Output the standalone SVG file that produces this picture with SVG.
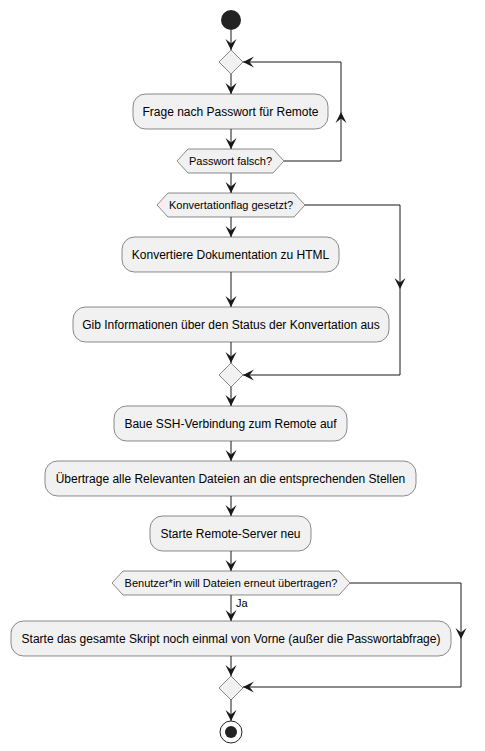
<svg xmlns="http://www.w3.org/2000/svg" width="485" height="751" viewBox="0 0 485 751">
<defs>
<style>
.act{fill:#F1F1F1;stroke:#181818;stroke-width:0.5}
.t{font-family:"Liberation Sans",Arial,sans-serif;font-size:12px;fill:#000;text-anchor:middle}
.ts{font-family:"Liberation Sans",Arial,sans-serif;font-size:11px;fill:#000;text-anchor:middle}
.c{fill:none;stroke:#181818;stroke-width:1}
</style>
<marker id="ah" markerUnits="userSpaceOnUse" markerWidth="14" markerHeight="14" viewBox="-12 -7 14 14" refX="0" refY="0" orient="auto">
<path d="M0,0 L-11,-5.5 L-6.5,0 L-11,5.5 Z" fill="#181818"/>
</marker>
</defs>
<rect width="485" height="751" fill="#FFFFFF"/>
<g id="connectors">
<path class="c" d="M231,30 V50" marker-end="url(#ah)"/>
<path class="c" d="M231,74 V94" marker-end="url(#ah)"/>
<path class="c" d="M231,129 V149" marker-end="url(#ah)"/>
<path class="c" d="M284,161 H341 V112" marker-end="url(#ah)"/>
<path class="c" d="M341,112 V62 H243" marker-end="url(#ah)"/>
<path class="c" d="M231,173 V193" marker-end="url(#ah)"/>
<path class="c" d="M231,217 V237" marker-end="url(#ah)"/>
<path class="c" d="M231,272 V307" marker-end="url(#ah)"/>
<path class="c" d="M231,342 V363" marker-end="url(#ah)"/>
<path class="c" d="M305,205 H400 V289" marker-end="url(#ah)"/>
<path class="c" d="M400,289 V375 H243" marker-end="url(#ah)"/>
<path class="c" d="M231,387 V406" marker-end="url(#ah)"/>
<path class="c" d="M231,441 V461" marker-end="url(#ah)"/>
<path class="c" d="M231,496 V516" marker-end="url(#ah)"/>
<path class="c" d="M231,551 V571" marker-end="url(#ah)"/>
<path class="c" d="M231,595 V621" marker-end="url(#ah)"/>
<text class="ts" x="236" y="607" style="text-anchor:start">Ja</text>
<path class="c" d="M350,583 H461 V639" marker-end="url(#ah)"/>
<path class="c" d="M461,639 V687 H243" marker-end="url(#ah)"/>
<path class="c" d="M231,656 V676" marker-end="url(#ah)"/>
<path class="c" d="M231,699 V721" marker-end="url(#ah)"/>
</g>
<g id="start"><circle cx="231" cy="20" r="10" fill="#222222"/></g>
<g id="merge1"><polygon class="act" points="231,50 243,62 231,74 219,62"/></g>
<g id="ask"><rect class="act" x="133" y="94" width="195" height="35" rx="12.5"/><text class="t" x="230.5" y="115.5">Frage nach Passwort für Remote</text></g>
<g id="pwcheck"><polygon class="act" points="177,161 188,149 273,149 284,161 273,173 188,173"/><text class="ts" x="230.5" y="165">Passwort falsch?</text></g>
<g id="flag"><polygon class="act" points="157,205 168,193 294,193 305,205 294,217 168,217"/><text class="ts" x="231" y="209">Konvertationflag gesetzt?</text></g>
<g id="convert"><rect class="act" x="122" y="237" width="217" height="35" rx="12.5"/><text class="t" x="230.5" y="258.5">Konvertiere Dokumentation zu HTML</text></g>
<g id="info"><rect class="act" x="73" y="307" width="316" height="35" rx="12.5"/><text class="t" x="231" y="328.5">Gib Informationen über den Status der Konvertation aus</text></g>
<g id="merge2"><polygon class="act" points="231,363 243,375 231,387 219,375"/></g>
<g id="ssh"><rect class="act" x="114" y="406" width="233" height="35" rx="12.5"/><text class="t" x="230.5" y="427.5">Baue SSH-Verbindung zum Remote auf</text></g>
<g id="transfer"><rect class="act" x="45" y="461" width="371" height="35" rx="12.5"/><text class="t" x="230.5" y="482.5">Übertrage alle Relevanten Dateien an die entsprechenden Stellen</text></g>
<g id="restart"><rect class="act" x="150" y="516" width="161" height="35" rx="12.5"/><text class="t" x="230.5" y="537.5">Starte Remote-Server neu</text></g>
<g id="again"><polygon class="act" points="112,583 123,571 339,571 350,583 339,595 123,595"/><text class="ts" x="231" y="587">Benutzer*in will Dateien erneut übertragen?</text></g>
<g id="rerun"><rect class="act" x="11" y="621" width="440" height="35" rx="12.5"/><text class="t" x="231" y="642.5">Starte das gesamte Skript noch einmal von Vorne (außer die Passwortabfrage)</text></g>
<g id="merge3"><polygon class="act" points="231,676 243,688 231,700 219,688"/></g>
<g id="end"><circle cx="231" cy="732" r="11" fill="none" stroke="#222222" stroke-width="1"/><circle cx="231" cy="732" r="6" fill="#222222"/></g>
</svg>
